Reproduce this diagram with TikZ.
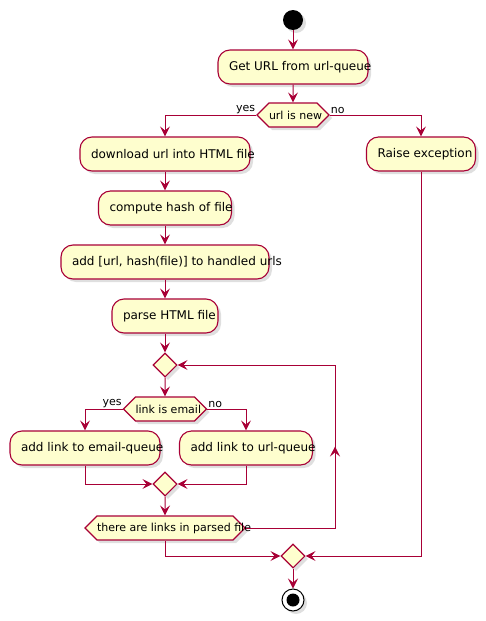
\documentclass[tikz,border=0pt]{standalone}
\usepackage{fontspec}
\setmainfont{DejaVu Sans}
\usetikzlibrary{arrows.meta, shapes.geometric, shapes.symbols, shadows, calc}
\definecolor{umlred}{HTML}{A80036}
\definecolor{umlfill}{HTML}{FEFECE}
\tikzset{
  umlshadow/.style={drop shadow={shadow xshift=3pt, shadow yshift=-3pt, fill=black!25}},
  action/.style={draw=umlred, fill=umlfill, line width=1.1pt, rounded corners=12pt,
    minimum height=34pt, inner xsep=11pt, inner ysep=0pt, font=\fontsize{12}{14}\selectfont, umlshadow},
  decision/.style={shape=signal, signal to=west and east, signal pointer angle=90,
    draw=umlred, fill=umlfill, line width=1.1pt, minimum height=24pt, inner sep=0pt,
    font=\fontsize{11}{12}\selectfont, umlshadow},
  merge/.style={diamond, draw=umlred, fill=umlfill, line width=1.1pt, minimum size=24pt,
    inner sep=0pt, umlshadow},
  flow/.style={draw=umlred, line width=1pt, -{Stealth[length=10pt, width=10pt, inset=4pt]}},
  guard/.style={font=\fontsize{11}{12}\selectfont, inner sep=1pt}
}
\newcommand{\lefttext}[2]{\makebox[#1][l]{#2}}

\begin{document}
\begin{tikzpicture}[x=1pt, y=-1pt]
\useasboundingbox (0,0) rectangle (486,621);

% nodes
\node[circle, fill=black, minimum size=20pt, inner sep=0pt, umlshadow] (start) at (293,20) {};
\node[action] (geturl) at (293,67) {\lefttext{128pt}{Get URL from url-queue}};
\node[decision, minimum width=72pt] (urlnew) at (293,115) {\lefttext{48pt}{url is new}};
\node[action] (download) at (165,154) {\lefttext{148pt}{download url into HTML file}};
\node[action] (raise) at (421,154) {\lefttext{87pt}{Raise exception}};
\node[action] (hash) at (165,208) {\lefttext{111pt}{compute hash of file}};
\node[action] (handled) at (165,262) {\lefttext{186pt}{add [url, hash(file)] to handled urls}};
\node[action] (parse) at (165,316) {\lefttext{84pt}{parse HTML file}};
\node[merge] (loopmerge) at (165,365) {};
\node[decision, minimum width=83pt] (isemail) at (165,409) {\lefttext{59pt}{link is email}};
\node[action] (emailq) at (85,448) {\lefttext{128pt}{add link to email-queue}};
\node[action] (urlq) at (246,448) {\lefttext{111pt}{add link to url-queue}};
\node[merge] (linkmerge) at (165,484) {};
\node[decision, minimum width=160pt] (morelinks) at (165,528) {\lefttext{136pt}{there are links in parsed file}};
\node[merge] (endmerge) at (293,556) {};
\node[circle, draw=black, fill=white, line width=1pt, minimum size=22pt, inner sep=0pt, umlshadow] (stop) at (293,600) {};
\fill (stop) circle (6.5pt);

\coordinate (loopcorner) at (335,528);
\coordinate (loopturn) at (335,365);

% guards
\node[guard, anchor=south east] at (urlnew.west) {yes};
\node[guard, anchor=south west] at (urlnew.east) {no};
\node[guard, anchor=south east] at (isemail.west) {yes};
\node[guard, anchor=south west] at (isemail.east) {no};

% connectors
\draw[flow] (start) -- (geturl);
\draw[flow] (geturl) -- (urlnew);
\draw[flow] (urlnew.west) -| (download);
\draw[flow] (urlnew.east) -| (raise);
\draw[flow] (download) -- (hash);
\draw[flow] (hash) -- (handled);
\draw[flow] (handled) -- (parse);
\draw[flow] (parse) -- (loopmerge);
\draw[flow] (loopmerge) -- (isemail);
\draw[flow] (isemail.west) -| (emailq);
\draw[flow] (isemail.east) -| (urlq);
\draw[flow] (emailq.south) |- (linkmerge.west);
\draw[flow] (urlq.south) |- (linkmerge.east);
\draw[flow] (linkmerge) -- (morelinks);
\draw[flow] (morelinks.east) -- (loopcorner) -- (loopturn) -- (loopmerge.east);
\draw[flow] (loopcorner) -- ($(loopcorner)!.5!(loopturn)$);
\draw[flow] (morelinks.south) |- (endmerge.west);
\draw[flow] (raise.south) |- (endmerge.east);
\draw[flow] (endmerge) -- (stop);

\end{tikzpicture}
\end{document}
